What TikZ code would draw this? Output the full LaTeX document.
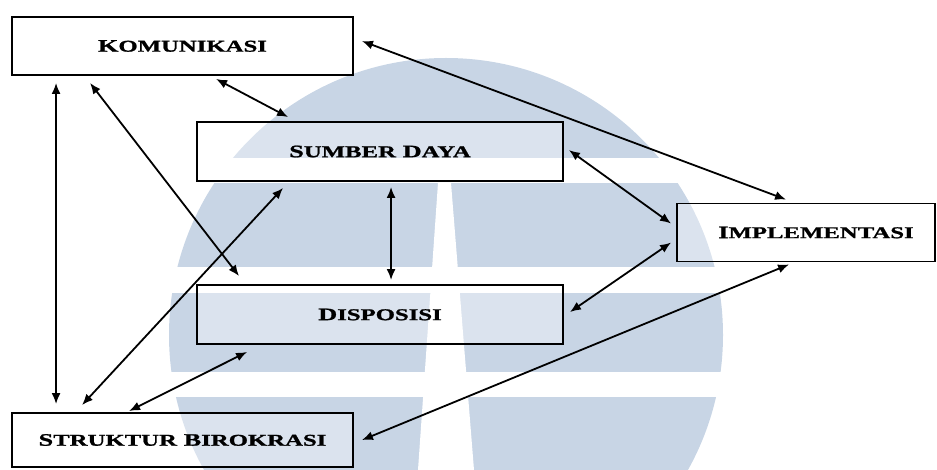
\documentclass[tikz,border=0pt]{standalone}
\usepackage{fontspec}
\usetikzlibrary{arrows.meta,calc}
\newfontfamily\boxfont[FakeStretch=1.5,FakeBold=1.2]{Liberation Serif}
% small-caps look: larger initial, slightly smaller capitals after it
\newcommand\capsc[2]{{\fontsize{17.5}{20}\selectfont #1}{\fontsize{16.5}{20}\selectfont #2}}
\definecolor{wmblue}{RGB}{200,213,229}
\begin{document}
\begin{tikzpicture}[x=1pt,y=-1pt,
  box/.style={draw=black, line width=1.9pt, fill=white, fill opacity=0.35,
    text opacity=1, inner sep=0pt, font=\boxfont\bfseries},
  link/.style={line width=1.8pt, {Latex[length=11pt,width=9pt]}-{Latex[length=11pt,width=9pt]}}]
\useasboundingbox (0,0) rectangle (937,470);

% faint background emblem
\begin{scope}
  \clip (0,0) rectangle (937,470);
  \fill[wmblue] (446,335) circle (277);
  \fill[white] (150,158) rectangle (740,183);
  \fill[white] (150,267) rectangle (740,293);
  \fill[white] (150,372) rectangle (740,397);
  \fill[white] (438,183) -- (451,183) -- (474,470) -- (418,470) -- cycle;
\end{scope}

% boxes
\node[box, minimum width=341pt, minimum height=58pt] (kom) at (182.5,46) {\capsc{K}{OMUNIKASI}};
\node[box, minimum width=366pt, minimum height=59pt] (sum) at (380,151.5) {\capsc{S}{UMBER}\hspace{3pt} \capsc{D}{AYA}};
\node[box, minimum width=366pt, minimum height=59pt] (dis) at (380,314.5) {\capsc{D}{ISPOSISI}};
\node[box, minimum width=258pt, minimum height=58pt] (imp) at (806,232.5) {\hspace*{20pt}\capsc{I}{MPLEMENTASI}};
\node[box, minimum width=341pt, minimum height=54pt] (str) at (182.5,440) {\capsc{S}{TRUKTUR}\hspace{3pt} \capsc{B}{IROKRASI}};

% two-way links
\draw[link] ($(kom.south west)+(45,7)$) -- ($(str.north west)+(45,-8)$);
\draw[link] ($(kom.south west)+(79,7)$) -- ($(dis.north west)+(43,-8)$);
\draw[link] ($(kom.south west)+(205,3)$) -- ($(sum.north west)+(92,-4)$);
\draw[link] ($(kom.north east)+(8,25)$) -- ($(imp.north west)+(110,-3)$);
\draw[link] ($(sum.south west)+(195,5)$) -- ($(dis.north west)+(195,-4)$);
\draw[link] ($(sum.south west)+(87,6)$) -- ($(str.north west)+(71,-7)$);
\draw[link] ($(sum.north east)+(5,29)$) -- ($(imp.north west)+(-5,21)$);
\draw[link] ($(dis.north east)+(6,28)$) -- ($(imp.north west)+(-5,40)$);
\draw[link] ($(dis.south west)+(51,7)$) -- ($(str.north west)+(118,-1)$);
\draw[link] ($(imp.south west)+(113,2)$) -- ($(str.north east)+(8,28)$);
\end{tikzpicture}
\end{document}
